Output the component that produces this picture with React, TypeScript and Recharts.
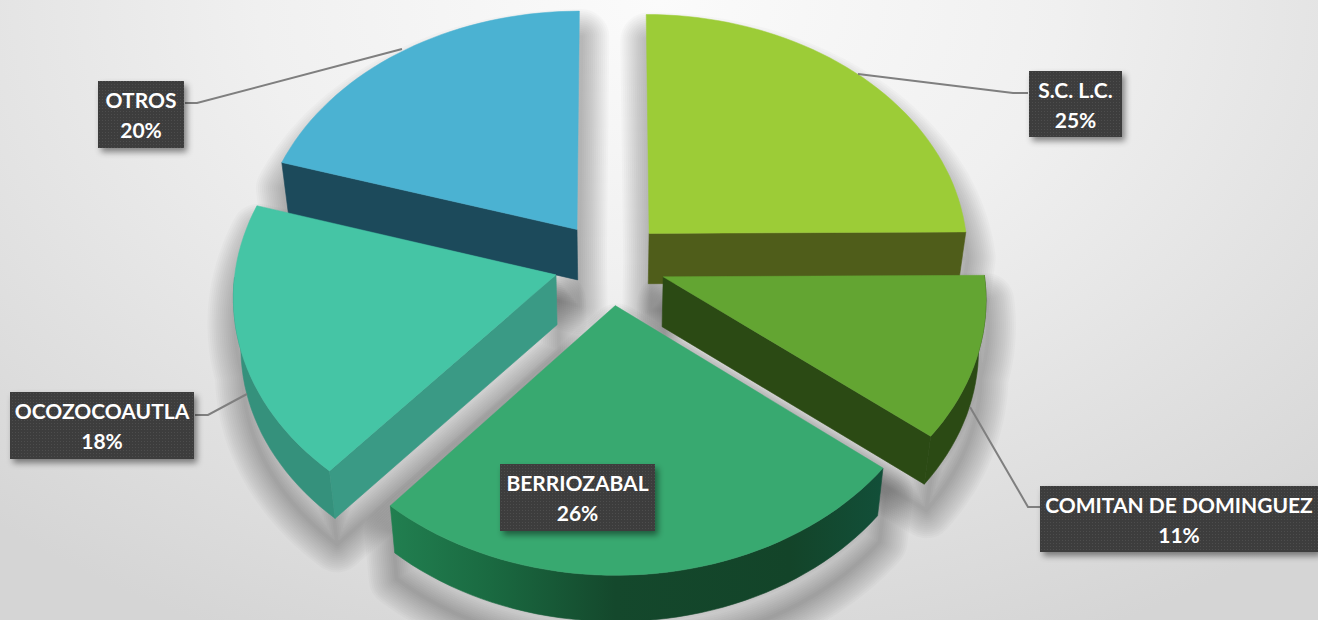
import React from 'react';
import { PieChart, Pie } from 'recharts';

const NAMES = ['S.C. L.C.', 'COMITAN DE DOMINGUEZ', 'BERRIOZABAL', 'OCOZOCOAUTLA', 'OTROS'];
const VALUES = [24.9, 10.8, 25.6, 18.4, 20.3];
const TOP_COLORS = ['#9ccc37', '#63a532', '#38a970', '#45c5a5', '#4bb2d2'];
const SIDE_COLORS = ['#4f5d1a', '#2b4a14', '#1b6b42', '#3a9a85', '#1c4a5b'];
const RIM_COLORS = ['#4f5d1a', '#2b4a14', 'url(#berrioRim)', '#35917c', '#1c4a5b'];

// where each dark tag sits: x, y, w, h
const TAG_BOXES = [
  [1029, 71, 93, 66],
  [1040, 486, 278, 66],
  [500, 464, 155, 67],
  [10, 392, 184, 67],
  [98, 81, 86, 67],
];
// leader line from tag to slice, empty for the tag placed on its slice
const LEADERS = [
  '1028,93 1013,93 858,74',
  '1040,507 1028,507 970,407',
  '',
  '195,415 208,415 247,394',
  '185,103 197,103 402,49',
];

const chartData = NAMES.map((name, i) => ({ name, value: VALUES[i], fill: TOP_COLORS[i] }));

const W = 1318;
const H = 620;
const CX = 610;
const CY = 263;
const RADIUS = 320;
const TILT = 0.753; // vertical squash of the disc
const PERSP = 0.08;
const EXPLODE = 0.175;
const DEPTH = 50;
const SHADOW_WIDTHS = [4, 8, 12, 16, 20, 24, 28, 32, 36, 40, 44, 48, 52, 56];

type Pt = [number, number];

const project = (u: number, v: number, cx: number, cy: number, r: number): Pt => {
  const s = 1 / (1 - PERSP * v);
  return [cx + u * r * s, cy + v * r * TILT * s];
};

const drop = ([x, y]: Pt, cx: number, cy: number): Pt => [
  cx + (x - cx) * 0.98,
  y + DEPTH - 0.012 * (y - cy),
];

const toPath = (pts: Pt[]) => 'M' + pts.map((p) => p[0].toFixed(1) + ' ' + p[1].toFixed(1)).join('L') + 'Z';

// apex and rim of one exploded slice, in screen space
const sliceOutline = (p: any) => {
  const { cx, cy, outerRadius: r, startAngle, endAngle } = p;
  const mid = (((startAngle + endAngle) / 2) * Math.PI) / 180;
  const ox = Math.cos(mid) * EXPLODE;
  const oy = -Math.sin(mid) * EXPLODE;
  const apex = project(ox, oy, cx, cy, r);
  const rim: Pt[] = [];
  const front: Pt[] = []; // rim points on the near half, the only ones with a visible wall
  const steps = Math.max(6, Math.ceil(Math.abs(endAngle - startAngle) / 2));
  for (let i = 0; i <= steps; i++) {
    const a = ((startAngle + ((endAngle - startAngle) * i) / steps) * Math.PI) / 180;
    const pt = project(ox + Math.cos(a), oy - Math.sin(a), cx, cy, r);
    rim.push(pt);
    if (Math.sin(a) < 0.02) front.push(pt);
  }
  return { apex, rim, front };
};

// a radial wall shows only when the slice's top lies above that edge
const sideShows = (apex: Pt, q: Pt, inner: Pt) => {
  const ex = q[0] - apex[0];
  const ey = q[1] - apex[1];
  if (Math.abs(ex) < 0.05 * Math.hypot(ex, ey)) return false;
  const toTop = ex * (inner[1] - apex[1]) - ey * (inner[0] - apex[0]);
  return ex * toTop < 0;
};

const wallParts = (p: any) => {
  const { apex, rim, front } = sliceOutline(p);
  const d = (q: Pt) => drop(q, p.cx, p.cy);
  const first = rim[0];
  const last = rim[rim.length - 1];
  const inner = rim[Math.floor(rim.length / 2)];
  return {
    sideA: sideShows(apex, first, inner) ? toPath([apex, first, d(first), d(apex)]) : '',
    sideB: sideShows(apex, last, inner) ? toPath([apex, last, d(last), d(apex)]) : '',
    outer: front.length > 1 ? toPath([...front, ...[...front].reverse().map(d)]) : '',
    top: toPath([apex, ...rim]),
  };
};

// soft edge made from stacked translucent strokes, pushed down so the far rim stays clean
const ShadowShape = (p: any) => {
  const w = wallParts(p);
  const d = w.sideA + w.sideB + w.outer + w.top;
  return (
    <g transform="translate(2 26)">
      {SHADOW_WIDTHS.map((sw) => (
        <path key={sw} d={d} fill="none" stroke="#000" strokeOpacity={0.02} strokeWidth={sw} strokeLinejoin="round" />
      ))}
    </g>
  );
};

const WallShape = (p: any) => {
  const i = NAMES.indexOf(p.name);
  const w = wallParts(p);
  const side = SIDE_COLORS[i];
  const rim = RIM_COLORS[i];
  return (
    <g>
      {w.outer && <path d={w.outer} fill={rim} stroke={rim} strokeWidth={0.6} />}
      {w.sideA && <path d={w.sideA} fill={side} stroke={side} strokeWidth={0.6} />}
      {w.sideB && <path d={w.sideB} fill={side} stroke={side} strokeWidth={0.6} />}
    </g>
  );
};

const TopShape = (p: any) => {
  const w = wallParts(p);
  return <path d={w.top} fill={p.fill} stroke={p.fill} strokeWidth={0.5} />;
};

const renderTag = (p: any) => {
  const i = NAMES.indexOf(p.name);
  const [x, y, w, h] = TAG_BOXES[i];
  const mid = x + w / 2;
  return (
    <g key={p.name}>
      {LEADERS[i] && <polyline points={LEADERS[i]} fill="none" stroke="#7f7f7f" strokeWidth={2} />}
      <rect x={x} y={y} width={w} height={h} fill="url(#tagDots)" filter="url(#tagShadow)" />
      <text x={mid} y={y + 27} textAnchor="middle" fill="#fff" fontFamily="Lato" fontWeight={700} fontSize={21}>
        {p.name}
      </text>
      <text x={mid} y={y + 57} textAnchor="middle" fill="#fff" fontFamily="Lato" fontWeight={700} fontSize={21}>
        {Math.round(p.percent * 100)}%
      </text>
    </g>
  );
};

const pieProps = {
  data: chartData,
  dataKey: 'value',
  nameKey: 'name',
  cx: CX,
  cy: CY,
  outerRadius: RADIUS,
  startAngle: 90,
  endAngle: -270,
  stroke: 'none',
  isAnimationActive: false,
};

export default function App() {
  return (
    <div
      style={{
        position: 'absolute',
        left: 0,
        top: 0,
        width: W,
        height: H,
        overflow: 'hidden',
        background: 'radial-gradient(ellipse 1000px 700px at 50% 0%, #fbfbfb 0%, #f0f0f0 40%, #dedede 80%, #d5d5d5 100%)',
      }}
    >
      <PieChart width={W} height={H} margin={{ top: 0, right: 0, bottom: 0, left: 0 }}>
        <defs>
          <filter id="tagShadow" x="-20%" y="-20%" width="140%" height="140%">
            <feDropShadow dx={3} dy={4} stdDeviation={3} floodColor="#000" floodOpacity={0.45} />
          </filter>
          <pattern id="tagDots" width={3} height={3} patternUnits="userSpaceOnUse">
            <rect width={3} height={3} fill="#3e3e3e" />
            <rect width={1} height={1} fill="#4d4d4d" />
          </pattern>
          <linearGradient id="berrioRim" gradientUnits="userSpaceOnUse" x1={390} y1={0} x2={890} y2={0}>
            <stop offset="0%" stopColor="#217f50" />
            <stop offset="20%" stopColor="#1a6a41" />
            <stop offset="45%" stopColor="#14482c" />
            <stop offset="80%" stopColor="#134429" />
            <stop offset="100%" stopColor="#12503a" />
          </linearGradient>
        </defs>
        <Pie {...pieProps} shape={ShadowShape} />
        <Pie {...pieProps} shape={WallShape} />
        <Pie {...pieProps} shape={TopShape} label={renderTag} labelLine={false} />
      </PieChart>
    </div>
  );
}
